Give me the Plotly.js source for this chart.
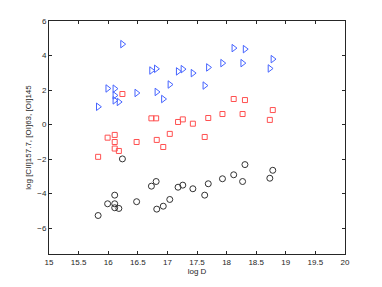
<!DOCTYPE html>
<html>
<head>
<meta charset="utf-8">
<script src="https://cdn.plot.ly/plotly-3.0.1.min.js"></script>
<style>html,body{margin:0;padding:0;background:#fff;}#chart{width:382px;height:287px;}</style>
</head>
<body>
<div id="chart"></div>
<script>
const logD = [15.83, 15.99, 16.11, 16.11, 16.11, 16.18, 16.24, 16.48, 16.73, 16.81, 16.82, 16.93,
              17.04, 17.18, 17.26, 17.43, 17.63, 17.69, 17.93, 18.12, 18.27, 18.31, 18.73, 18.78];
const logCII157 = [1.03, 2.09, 2.08, 1.69, 1.40, 1.31, 4.66, 1.83, 3.13, 3.23, 1.89, 1.48,
                   2.32, 3.08, 3.21, 2.98, 2.26, 3.31, 3.56, 4.43, 3.56, 4.37, 3.25, 3.79];
const logOI63 = [-1.87, -0.76, -0.60, -1.01, -1.39, -1.53, 1.77, -1.01, 0.36, 0.36, -0.89, -1.30,
                 -0.54, 0.15, 0.30, 0.05, -0.72, 0.38, 0.61, 1.48, 0.61, 1.42, 0.27, 0.84];
const logOI145 = [-5.27, -4.59, -4.09, -4.59, -4.82, -4.86, -1.99, -4.47, -3.57, -3.30, -4.90, -4.73,
                  -4.34, -3.63, -3.51, -3.72, -4.09, -3.43, -3.14, -2.91, -3.30, -2.32, -3.11, -2.65];
const xTicks = [15, 15.5, 16, 16.5, 17, 17.5, 18, 18.5, 19, 19.5, 20];
const yTicks = [-6, -4, -2, 0, 2, 4, 6];

const traces = [
  {x: logD, y: logCII157, type: 'scatter', mode: 'markers', name: '[CII]157.7',
   marker: {symbol: 'triangle-right-open', size: 6.5, color: 'rgb(70,100,255)', line: {width: 1}}},
  {x: logD, y: logOI63, type: 'scatter', mode: 'markers', name: '[OI]63',
   marker: {symbol: 'square-open', size: 5, color: 'rgb(255,80,80)', line: {width: 1}}},
  {x: logD, y: logOI145, type: 'scatter', mode: 'markers', name: '[OI]145',
   marker: {symbol: 'circle-open', size: 6, color: 'rgb(50,50,50)', line: {width: 1}}}
];

const axisCommon = {
  showline: true, linecolor: '#262626', linewidth: 1, mirror: 'ticks',
  ticks: 'inside', ticklen: 3, tickcolor: '#262626', tickwidth: 1,
  showgrid: false, zeroline: false,
  tickfont: {family: 'Liberation Sans, Arial, sans-serif', size: 8, color: '#262626'}
};

const layout = {
  width: 382, height: 287,
  margin: {l: 49, r: 37, t: 21, b: 33, pad: 0},
  paper_bgcolor: '#fff', plot_bgcolor: '#fff',
  showlegend: false,
  xaxis: Object.assign({}, axisCommon, {
    range: [15, 20], tickvals: xTicks, ticktext: xTicks.map(String),
    title: {text: 'log D', standoff: 1, font: {family: 'Liberation Sans, Arial, sans-serif', size: 8, color: '#262626'}}
  }),
  yaxis: Object.assign({}, axisCommon, {
    range: [-7.5, 6], tickvals: yTicks,
    title: {text: 'log [CII]157.7, [OI]63, [OI]145', standoff: 4, font: {family: 'Liberation Sans, Arial, sans-serif', size: 8, color: '#262626'}}
  })
};

Plotly.newPlot('chart', traces, layout, {displayModeBar: false, staticPlot: true});
</script>
</body>
</html>
